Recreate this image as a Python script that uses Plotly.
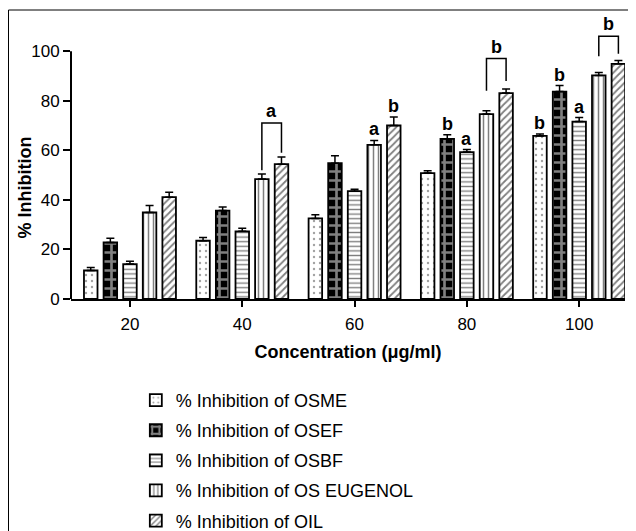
import plotly.graph_objects as go

concentrations = ["20", "40", "60", "80", "100"]
series_names = ["% Inhibition of OSME", "% Inhibition of OSEF", "% Inhibition of OSBF",
                "% Inhibition of OS EUGENOL", "% Inhibition of OIL"]
osme = [11.5, 23.5, 32.5, 50.8, 65.8]
osme_err = [1.2, 1.3, 1.5, 1.0, 0.8]
osef = [22.8, 35.7, 54.8, 64.6, 83.7]
osef_err = [1.7, 1.4, 3.0, 1.7, 2.4]
osbf = [14.1, 27.3, 43.5, 59.3, 71.6]
osbf_err = [1.1, 1.2, 0.8, 1.0, 1.6]
eugenol = [34.9, 48.4, 62.2, 74.6, 90.2]
eugenol_err = [2.8, 2.0, 1.8, 1.4, 1.2]
oil = [41.1, 54.4, 70.0, 83.1, 94.9]
oil_err = [2.0, 2.9, 3.4, 1.6, 1.3]

# significance letters over single bars: (group index, series index, letter)
letter_marks = [(2, 3, "a"), (2, 4, "b"), (3, 1, "b"), (3, 2, "a"),
                (4, 0, "b"), (4, 1, "b"), (4, 2, "a")]
# brackets between EUGENOL and OIL bars
bracket_groups = [1, 3, 4]
bracket_letters = ["a", "b", "b"]
bracket_top = [71.0, 97.0, 106.0]
bracket_left_bottom = [52.0, 84.0, 98.0]
bracket_right_bottom = [59.0, 88.0, 99.0]

values = [osme, osef, osbf, eugenol, oil]
errors = [osme_err, osef_err, osbf_err, eugenol_err, oil_err]
patterns = [
    dict(shape=".", fgcolor="#444", bgcolor="white", size=6, solidity=0.12),
    dict(shape="+", fgcolor="white", bgcolor="black", size=9, solidity=0.5),
    dict(shape="-", fgcolor="black", bgcolor="white", size=4.6, solidity=0.3),
    dict(shape="|", fgcolor="black", bgcolor="white", size=5, solidity=0.3),
    dict(shape="/", fgcolor="black", bgcolor="white", size=5, solidity=0.35),
]

FONT = "Arial, Liberation Sans, sans-serif"
bargap = 0.127
n = len(values)
slot = (1 - bargap) / n
xpos = list(range(len(concentrations)))

fig = go.Figure()
for i in range(n):
    fig.add_trace(go.Bar(
        x=xpos, y=values[i], name=series_names[i], legendgroup=str(i),
        marker=dict(color="white", line=dict(color="black", width=1.8), pattern=patterns[i]),
        error_y=dict(type="data", array=errors[i], arrayminus=[0] * len(xpos), symmetric=False,
                     color="black", thickness=1.5, width=4),
    ))

def bar_x(g, s):
    return g + (s - (n - 1) / 2) * slot

annotations = []
for g, s, t in letter_marks:
    annotations.append(dict(x=bar_x(g, s), y=values[s][g] + errors[s][g], text="<b>%s</b>" % t,
                            showarrow=False, yanchor="bottom", xref="x", yref="y",
                            font=dict(family=FONT, size=18, color="black"), yshift=-1))
shapes = []
for k, g in enumerate(bracket_groups):
    xl, xr = bar_x(g, 3), bar_x(g, 4)
    shapes.append(dict(type="path", xref="x", yref="y",
                       path="M %f,%f L %f,%f L %f,%f L %f,%f" % (xl, bracket_left_bottom[k], xl, bracket_top[k],
                                                              xr, bracket_top[k], xr, bracket_right_bottom[k]),
                       line=dict(color="black", width=1.5)))
    annotations.append(dict(x=(xl + xr) / 2, y=bracket_top[k], text="<b>%s</b>" % bracket_letters[k],
                            showarrow=False, yanchor="bottom", xref="x", yref="y",
                            font=dict(family=FONT, size=18, color="black")))

# y axis line from 0 to 100 only
shapes.append(dict(type="line", xref="x domain", yref="y", x0=0, x1=0, y0=0, y1=100,
                   line=dict(color="black", width=2)))
# outer frame
shapes.append(dict(type="rect", xref="paper", yref="paper", x0=-0.1128, x1=1.1, y0=-1.0, y1=1.014,
                   line=dict(color="black", width=1), fillcolor="rgba(0,0,0,0)"))

annotations.append(dict(x=-0.083, y=45, xref="paper", yref="y", text="<b>% Inhibition</b>", textangle=-90,
                        xanchor="center", yanchor="middle",
                        showarrow=False, font=dict(family=FONT, size=18, color="black")))

fig.update_layout(
    width=636, height=548,
    margin=dict(l=63, r=19, t=6, b=256.7),
    paper_bgcolor="white", plot_bgcolor="white",
    barmode="group", bargap=bargap, bargroupgap=0.31,
    font=dict(family=FONT, size=17, color="black"),
    showlegend=True,
    legend=dict(x=0.117, y=-0.291, xanchor="left", yanchor="top", tracegroupgap=3.7,
                font=dict(family=FONT, size=18, color="black"), bgcolor="rgba(0,0,0,0)"),
    annotations=annotations, shapes=shapes,
)
fig.update_xaxes(range=[-0.525, 4.408], tickvals=xpos, ticktext=concentrations,
                 showline=True, linecolor="black", linewidth=2, ticks="outside", ticklen=6,
                 tickwidth=2, tickcolor="black", showgrid=False, zeroline=False,
                 ticklabelstandoff=3,
                 tickfont=dict(family=FONT, size=17),
                 title=dict(text="<b>Concentration (μg/ml)</b>", font=dict(family=FONT, size=18), standoff=12))
fig.update_yaxes(range=[0, 115], tickvals=[0, 20, 40, 60, 80, 100], showline=False,
                 ticks="outside", ticklen=7, tickwidth=2, tickcolor="black",
                 showgrid=False, zeroline=False, tickfont=dict(family=FONT, size=17))

fig.write_html("out.html")
